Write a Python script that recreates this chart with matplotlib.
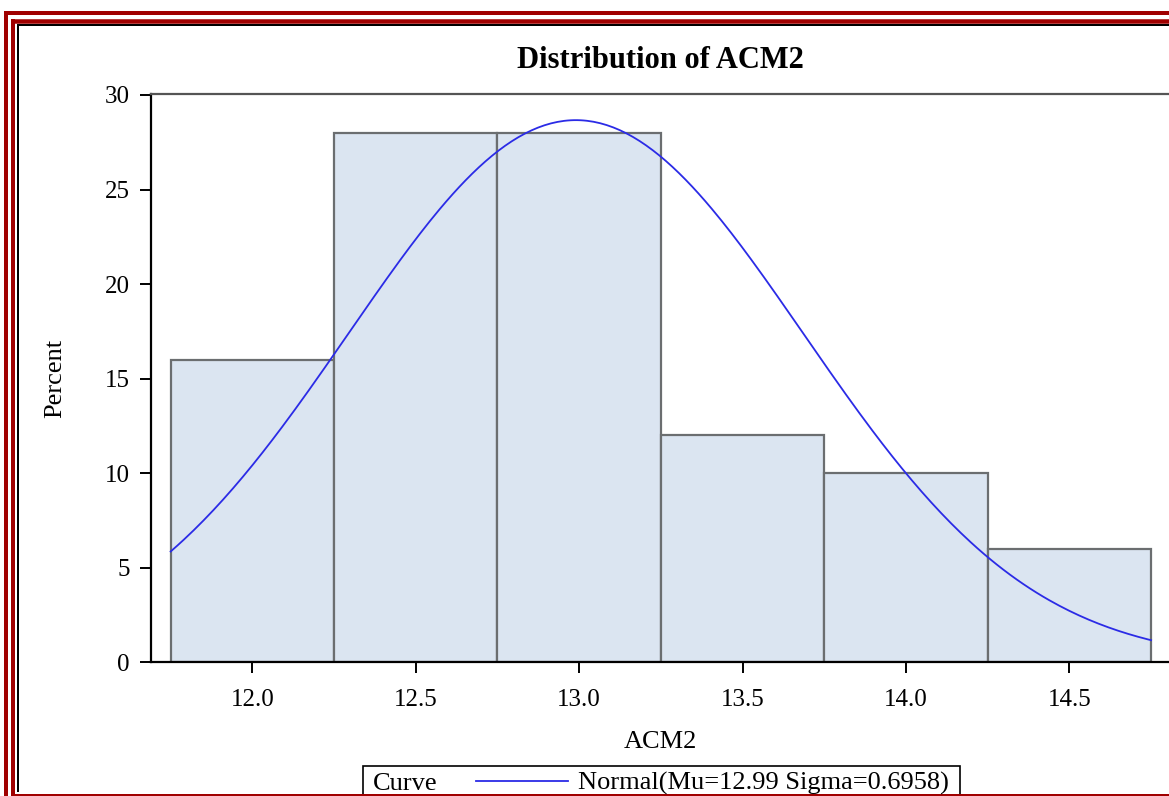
import numpy as np
import matplotlib
matplotlib.use("Agg")
import matplotlib.pyplot as plt
from matplotlib.lines import Line2D
from matplotlib.patches import Rectangle

# ---- data ----
bin_edges = [11.75, 12.25, 12.75, 13.25, 13.75, 14.25, 14.75]
percents = [16, 28, 28, 12, 10, 6]
mu = 12.99
sigma = 0.6958
x_ticks = [12.0, 12.5, 13.0, 13.5, 14.0, 14.5]
y_ticks = [0, 5, 10, 15, 20, 25, 30]
title = "Distribution of ACM2"
x_label = "ACM2"
y_label = "Percent"
legend_title = "Curve"
legend_label = f"Normal(Mu={mu:.2f} Sigma={sigma:.4f})"

W, H = 1169, 796
plt.rcParams['font.family'] = ['Liberation Serif', 'DejaVu Serif']

fig = plt.figure(figsize=(W / 100, H / 100), dpi=100)
fig.patch.set_facecolor('white')

def fx(px):
    return px / W

def fy(py):
    return 1 - py / H

# axes placement
ax_l, ax_r, ax_t, ax_b = 150.7, 1171.0, 94.0, 662.3
ax = fig.add_axes([fx(ax_l), fy(ax_b), fx(ax_r - ax_l), (ax_b - ax_t) / H])

fill = '#dbe5f1'
edge = '#6b6e70'
widths = np.diff(bin_edges)
ax.bar(bin_edges[:-1], percents, width=widths, align='edge',
       color=fill, edgecolor=edge, linewidth=1.6, zorder=2)

xs = np.linspace(bin_edges[0], bin_edges[-1], 300)
binw = widths[0]
ys = 100 * binw / (sigma * np.sqrt(2 * np.pi)) * np.exp(-0.5 * ((xs - mu) / sigma) ** 2)
ax.plot(xs, ys, color='#2b2be6', linewidth=1.3, zorder=3)

ax.set_xlim(11.689, 14.811)
ax.set_ylim(0, 30.05)
ax.set_xticks(x_ticks)
ax.set_xticklabels([f"{t:.1f}" for t in x_ticks])
ax.set_yticks(y_ticks)
ax.tick_params(axis='both', direction='out', length=8, width=1.4, colors='black',
               labelsize=18)
ax.tick_params(axis='x', pad=11)
ax.tick_params(axis='y', pad=7)

for s in ['left', 'bottom']:
    ax.spines[s].set_linewidth(1.6)
    ax.spines[s].set_color('black')
ax.spines['top'].set_linewidth(1.6)
ax.spines['top'].set_color('#555555')
ax.spines['right'].set_visible(False)

ax.set_title(title, fontsize=22, fontweight='bold', pad=18.5)
ax.set_xlabel(x_label, fontsize=19, va='center')
ax.xaxis.set_label_coords(0.5, (ax_b - 742) / (ax_b - ax_t))
ax.set_ylabel(y_label, fontsize=19, va='center')
ax.yaxis.set_label_coords((55 - ax_l) / (ax_r - ax_l), 0.5)

# ---- legend (manual, SAS style) ----
leg_l, leg_r, leg_t = 363, 960, 766
fig.add_artist(Rectangle((fx(leg_l), fy(H + 10)), fx(leg_r - leg_l), (H + 10 - leg_t) / H,
                         transform=fig.transFigure, facecolor='white',
                         edgecolor='black', linewidth=1.2))
fig.text(fx(373), fy(790), legend_title, fontsize=19, ha='left', va='baseline')
fig.add_artist(Line2D([fx(476), fx(568)], [fy(781), fy(781)], transform=fig.transFigure,
                      color='#2b2be6', linewidth=1.3))
fig.text(fx(578), fy(790), legend_label, fontsize=19, ha='left', va='baseline')

# ---- page frame ----
red = '#a00000'
def hline(y, x0, x1, lw, c):
    fig.add_artist(Line2D([fx(x0), fx(x1)], [fy(y), fy(y)], transform=fig.transFigure,
                          color=c, linewidth=lw * 0.72, solid_capstyle='butt'))

def vline(x, y0, y1, lw, c):
    fig.add_artist(Line2D([fx(x), fx(x)], [fy(y0), fy(y1)], transform=fig.transFigure,
                          color=c, linewidth=lw * 0.72, solid_capstyle='butt'))

hline(13, 4, W + 5, 4, red)
vline(6, 11, H + 5, 4, red)
hline(20.5, 11, W + 5, 4.5, red)
vline(13, 18.5, H + 5, 4, red)
hline(24.5, 16.5, W + 5, 2, 'black')
vline(17.5, 23.5, 792, 2, 'black')
hline(794.5, 15, W + 5, 2, red)

fig.savefig('out.png', dpi=100)
